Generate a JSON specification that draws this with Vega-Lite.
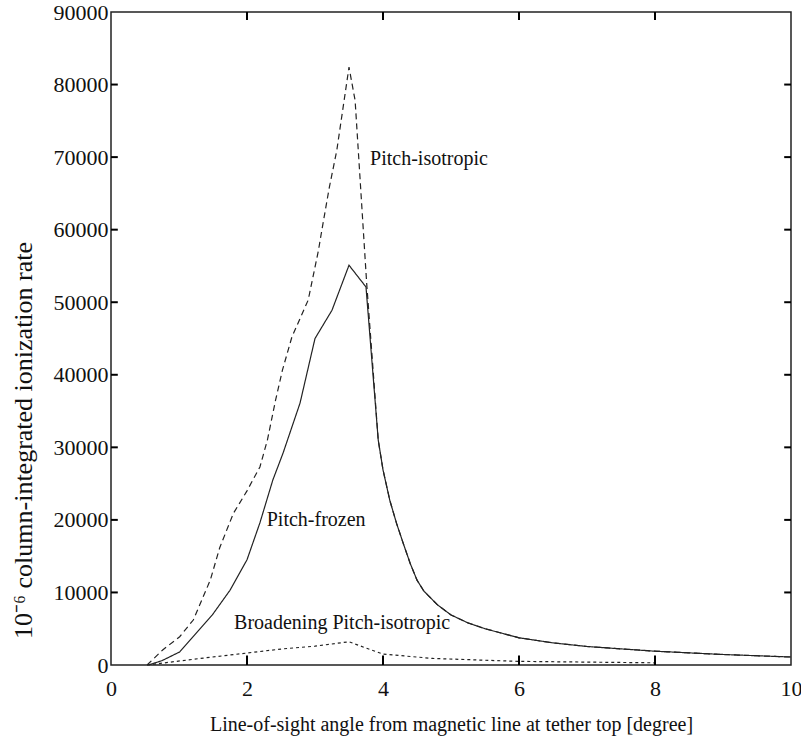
{
  "$schema": "https://vega.github.io/schema/vega-lite/v6.json",
  "width": 680,
  "height": 653,
  "autosize": {"type": "none"},
  "padding": {"left": 111, "top": 12, "right": 10, "bottom": 85},
  "background": "white",
  "config": {
    "font": "Liberation Serif",
    "view": {"stroke": "#222", "strokeWidth": 1.5},
    "axis": {"grid": false, "domain": false, "ticks": false, "labelFlush": false, "labelColor": "#111", "titleColor": "#111", "labelFont": "Liberation Serif", "titleFont": "Liberation Serif", "labelFontSize": 22, "titleFontSize": 20, "titleFontWeight": "normal"}
  },
  "datasets": {
    "curves": [
      {"series": "Pitch-isotropic", "x": 0.53, "y": 0},
      {"series": "Pitch-isotropic", "x": 0.76, "y": 2070},
      {"series": "Pitch-isotropic", "x": 1.01, "y": 3900},
      {"series": "Pitch-isotropic", "x": 1.21, "y": 6200},
      {"series": "Pitch-isotropic", "x": 1.46, "y": 11700},
      {"series": "Pitch-isotropic", "x": 1.6, "y": 16200},
      {"series": "Pitch-isotropic", "x": 1.8, "y": 20900},
      {"series": "Pitch-isotropic", "x": 2.0, "y": 24000},
      {"series": "Pitch-isotropic", "x": 2.19, "y": 27300},
      {"series": "Pitch-isotropic", "x": 2.3, "y": 31000},
      {"series": "Pitch-isotropic", "x": 2.42, "y": 36500},
      {"series": "Pitch-isotropic", "x": 2.52, "y": 40600},
      {"series": "Pitch-isotropic", "x": 2.66, "y": 45200},
      {"series": "Pitch-isotropic", "x": 2.9, "y": 50300},
      {"series": "Pitch-isotropic", "x": 3.05, "y": 57100},
      {"series": "Pitch-isotropic", "x": 3.1, "y": 59900},
      {"series": "Pitch-isotropic", "x": 3.21, "y": 65800},
      {"series": "Pitch-isotropic", "x": 3.32, "y": 70900},
      {"series": "Pitch-isotropic", "x": 3.5, "y": 82400},
      {"series": "Pitch-isotropic", "x": 3.59, "y": 77800},
      {"series": "Pitch-isotropic", "x": 3.76, "y": 52600},
      {"series": "Pitch-isotropic", "x": 3.93, "y": 31000},
      {"series": "Pitch-isotropic", "x": 4.0, "y": 26900},
      {"series": "Pitch-isotropic", "x": 4.1, "y": 22700},
      {"series": "Pitch-isotropic", "x": 4.2, "y": 19500},
      {"series": "Pitch-isotropic", "x": 4.3, "y": 16700},
      {"series": "Pitch-isotropic", "x": 4.4, "y": 14000},
      {"series": "Pitch-isotropic", "x": 4.5, "y": 11700},
      {"series": "Pitch-isotropic", "x": 4.6, "y": 10200},
      {"series": "Pitch-isotropic", "x": 4.8, "y": 8300},
      {"series": "Pitch-isotropic", "x": 5.0, "y": 6900},
      {"series": "Pitch-isotropic", "x": 5.25, "y": 5800},
      {"series": "Pitch-isotropic", "x": 5.5, "y": 5000},
      {"series": "Pitch-isotropic", "x": 6.0, "y": 3750},
      {"series": "Pitch-isotropic", "x": 6.5, "y": 3050},
      {"series": "Pitch-isotropic", "x": 7.0, "y": 2550},
      {"series": "Pitch-isotropic", "x": 8.0, "y": 1900},
      {"series": "Pitch-isotropic", "x": 9.0, "y": 1450},
      {"series": "Pitch-isotropic", "x": 10.0, "y": 1100},
      {"series": "Pitch-frozen", "x": 0.55, "y": 0},
      {"series": "Pitch-frozen", "x": 0.75, "y": 600},
      {"series": "Pitch-frozen", "x": 1.01, "y": 1800},
      {"series": "Pitch-frozen", "x": 1.49, "y": 6900},
      {"series": "Pitch-frozen", "x": 1.75, "y": 10300},
      {"series": "Pitch-frozen", "x": 2.0, "y": 14500},
      {"series": "Pitch-frozen", "x": 2.19, "y": 19600},
      {"series": "Pitch-frozen", "x": 2.38, "y": 25500},
      {"series": "Pitch-frozen", "x": 2.53, "y": 29200},
      {"series": "Pitch-frozen", "x": 2.78, "y": 36100},
      {"series": "Pitch-frozen", "x": 3.0, "y": 45000},
      {"series": "Pitch-frozen", "x": 3.25, "y": 48900},
      {"series": "Pitch-frozen", "x": 3.5, "y": 55100},
      {"series": "Pitch-frozen", "x": 3.75, "y": 52100},
      {"series": "Pitch-frozen", "x": 3.93, "y": 31000},
      {"series": "Pitch-frozen", "x": 4.0, "y": 26900},
      {"series": "Pitch-frozen", "x": 4.1, "y": 22700},
      {"series": "Pitch-frozen", "x": 4.2, "y": 19500},
      {"series": "Pitch-frozen", "x": 4.3, "y": 16700},
      {"series": "Pitch-frozen", "x": 4.4, "y": 14000},
      {"series": "Pitch-frozen", "x": 4.5, "y": 11700},
      {"series": "Pitch-frozen", "x": 4.6, "y": 10200},
      {"series": "Pitch-frozen", "x": 4.8, "y": 8300},
      {"series": "Pitch-frozen", "x": 5.0, "y": 6900},
      {"series": "Pitch-frozen", "x": 5.25, "y": 5800},
      {"series": "Pitch-frozen", "x": 5.5, "y": 5000},
      {"series": "Pitch-frozen", "x": 6.0, "y": 3750},
      {"series": "Pitch-frozen", "x": 6.5, "y": 3050},
      {"series": "Pitch-frozen", "x": 7.0, "y": 2550},
      {"series": "Pitch-frozen", "x": 8.0, "y": 1900},
      {"series": "Pitch-frozen", "x": 9.0, "y": 1450},
      {"series": "Pitch-frozen", "x": 10.0, "y": 1100},
      {"series": "Broadening Pitch-isotropic", "x": 0.53, "y": 0},
      {"series": "Broadening Pitch-isotropic", "x": 1.31, "y": 900},
      {"series": "Broadening Pitch-isotropic", "x": 2.0, "y": 1650},
      {"series": "Broadening Pitch-isotropic", "x": 2.5, "y": 2200},
      {"series": "Broadening Pitch-isotropic", "x": 3.0, "y": 2600},
      {"series": "Broadening Pitch-isotropic", "x": 3.5, "y": 3200},
      {"series": "Broadening Pitch-isotropic", "x": 3.76, "y": 2300},
      {"series": "Broadening Pitch-isotropic", "x": 4.0, "y": 1500},
      {"series": "Broadening Pitch-isotropic", "x": 4.74, "y": 900},
      {"series": "Broadening Pitch-isotropic", "x": 6.0, "y": 500},
      {"series": "Broadening Pitch-isotropic", "x": 8.0, "y": 300}
    ],
    "labels": [
      {"label": "Pitch-isotropic", "x": 3.81, "y": 69800},
      {"label": "Pitch-frozen", "x": 2.29, "y": 19970},
      {"label": "Broadening Pitch-isotropic", "x": 1.81, "y": 5800}
    ]
  },
  "layer": [
    {
      "data": {"name": "curves"},
      "mark": {"type": "line", "strokeWidth": 1.2, "color": "#222"},
      "encoding": {
        "x": {"field": "x", "type": "quantitative", "scale": {"domain": [0, 10], "nice": false, "zero": false},
          "axis": {"orient": "bottom", "values": [0, 2, 4, 6, 8, 10], "format": "d", "labelPadding": 13, "title": "Line-of-sight angle from magnetic line at tether top [degree]", "titlePadding": 15}},
        "y": {"field": "y", "type": "quantitative", "scale": {"domain": [0, 90000], "nice": false},
          "axis": {"orient": "left", "values": [0, 10000, 20000, 30000, 40000, 50000, 60000, 70000, 80000, 90000], "format": "d", "labelPadding": 3, "title": "10⁻⁶ column-integrated ionization rate", "titleFontSize": 26, "titleX": -88, "titleY": 428, "titleAngle": -90, "titleBaseline": "middle", "titleAlign": "center"}},
        "detail": {"field": "series"},
        "strokeDash": {"field": "series", "type": "nominal", "legend": null,
          "scale": {"domain": ["Pitch-isotropic", "Pitch-frozen", "Broadening Pitch-isotropic"], "range": [[6, 4], [1, 0], [3, 3]]}},
        "order": {"field": "x", "type": "quantitative"}
      }
    },
    {
      "data": {"name": "labels"},
      "mark": {"type": "text", "align": "left", "baseline": "middle", "fontSize": 20, "font": "Liberation Serif", "color": "#111"},
      "encoding": {
        "x": {"field": "x", "type": "quantitative"},
        "y": {"field": "y", "type": "quantitative"},
        "text": {"field": "label"}
      }
    },
    {
      "data": {"values": [{"v": 2}, {"v": 4}, {"v": 6}, {"v": 8}]},
      "mark": {"type": "rule", "strokeWidth": 2, "stroke": "black", "opacity": 1},
      "encoding": {"x": {"field": "v", "type": "quantitative"}, "y": {"datum": 0}, "y2": {"datum": 1300}}
    },
    {
      "data": {"values": [{"v": 2}, {"v": 4}, {"v": 6}, {"v": 8}]},
      "mark": {"type": "rule", "strokeWidth": 2, "stroke": "black", "opacity": 1},
      "encoding": {"x": {"field": "v", "type": "quantitative"}, "y": {"datum": 90000}, "y2": {"datum": 88900}}
    },
    {
      "data": {"values": [{"v": 10000}, {"v": 20000}, {"v": 30000}, {"v": 40000}, {"v": 50000}, {"v": 60000}, {"v": 70000}, {"v": 80000}]},
      "mark": {"type": "rule", "strokeWidth": 2, "stroke": "black", "opacity": 1},
      "encoding": {"y": {"field": "v", "type": "quantitative"}, "x": {"datum": 0}, "x2": {"datum": 0.1}}
    },
    {
      "data": {"values": [{"v": 10000}, {"v": 20000}, {"v": 30000}, {"v": 40000}, {"v": 50000}, {"v": 60000}, {"v": 70000}, {"v": 80000}]},
      "mark": {"type": "rule", "strokeWidth": 2, "stroke": "black", "opacity": 1},
      "encoding": {"y": {"field": "v", "type": "quantitative"}, "x": {"datum": 10}, "x2": {"datum": 9.9}}
    }
  ]
}
